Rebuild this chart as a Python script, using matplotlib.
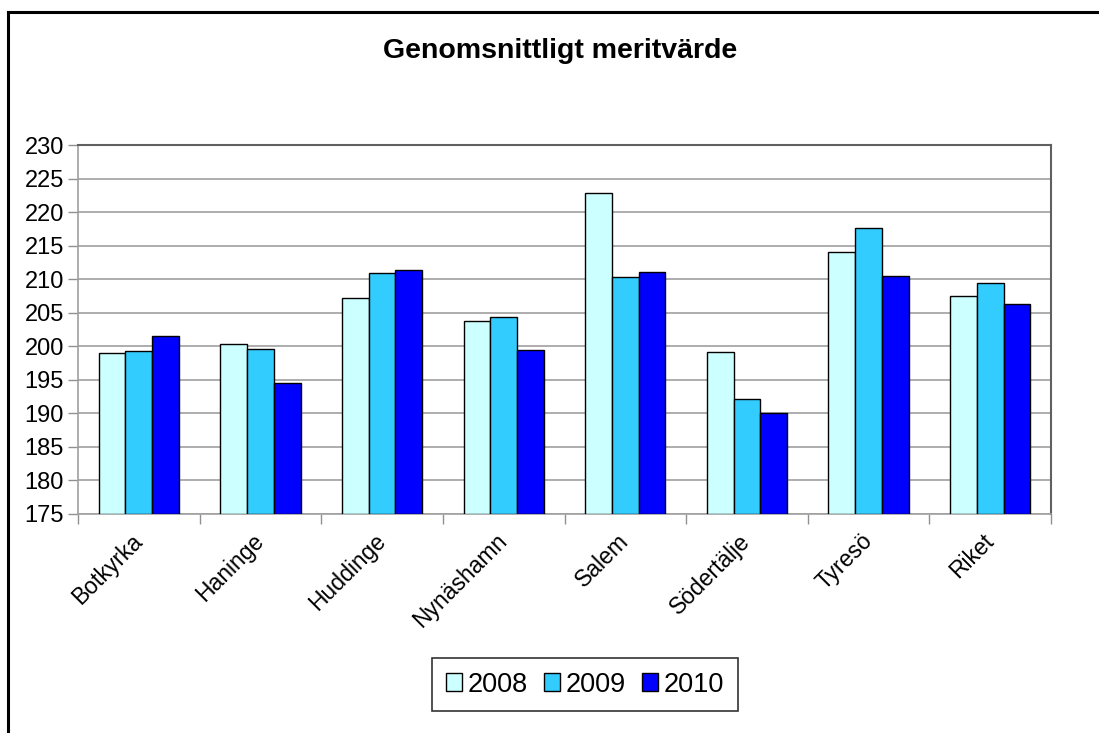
import numpy as np
import matplotlib.pyplot as plt
from matplotlib.lines import Line2D

plt.rcParams['font.family'] = ['Liberation Sans', 'DejaVu Sans']

kommuner = ['Botkyrka', 'Haninge', 'Huddinge', 'Nynäshamn', 'Salem',
            'Södertälje', 'Tyresö', 'Riket']
years = ['2008', '2009', '2010']
v2008 = [199.0, 200.4, 207.2, 203.8, 222.9, 199.2, 214.1, 207.5]
v2009 = [199.3, 199.6, 210.9, 204.4, 210.3, 192.2, 217.6, 209.5]
v2010 = [201.5, 194.6, 211.3, 199.4, 211.1, 190.1, 210.4, 206.3]
colors = ['#CCFFFF', '#33CCFF', '#0000FF']

fig = plt.figure(figsize=(10.99, 7.33), dpi=100)
ax = fig.add_axes([78 / 1099, 1 - 514 / 733, (1051 - 78) / 1099, (514 - 145) / 733])

x = np.arange(len(kommuner))
w = 0.22
base = 175
for i, (vals, c, yr) in enumerate(zip([v2008, v2009, v2010], colors, years)):
    vals = np.array(vals)
    ax.bar(x + (i - 1) * w, vals - base, width=w, bottom=base, color=c,
           edgecolor='black', linewidth=1.0, label=yr, zorder=3)

ax.set_ylim(175, 230)
ax.set_yticks(np.arange(175, 231, 5))
ax.set_xlim(-0.5, len(kommuner) - 0.5)
ax.yaxis.grid(True, color='#a0a0a0', linewidth=1.2, zorder=0)
ax.set_axisbelow(True)

# ticks between categories, labels at centers
ax.set_xticks(np.arange(-0.5, len(kommuner), 1))
ax.set_xticklabels([])
ax.set_xticks(x, minor=True)
ax.set_xticklabels(kommuner, minor=True, rotation=45, ha='right', va='center',
                   rotation_mode='anchor', fontsize=16.5)
ax.tick_params(axis='x', which='minor', length=0, pad=17)
ax.tick_params(axis='x', which='major', length=7, color='#909090', width=1)
ax.tick_params(axis='y', labelsize=17, length=7, color='#909090', width=1, pad=3)

for s in ['top', 'right']:
    ax.spines[s].set_color('#606060')
    ax.spines[s].set_linewidth(1.5)
for s in ['left', 'bottom']:
    ax.spines[s].set_color('#a0a0a0')
    ax.spines[s].set_linewidth(1.2)

fig.text(0.510, 1 - 51 / 733, 'Genomsnittligt meritvärde', ha='center', va='center',
         fontsize=20.5, fontweight='bold')

leg = fig.legend(loc='center', bbox_to_anchor=(585 / 1099, 1 - 684.5 / 733), ncol=3,
                 fontsize=19.5, frameon=True, fancybox=False, edgecolor='black',
                 handlelength=0.6, handleheight=0.6, handletextpad=0.2,
                 columnspacing=0.6, borderpad=0.5, borderaxespad=0)
leg.get_frame().set_linewidth(1.2)

# outer chart border (left and top only visible)
fig.add_artist(Line2D([8 / 1099, 8 / 1099], [0, 1 - 12 / 733], color='black',
                      linewidth=2.2, transform=fig.transFigure))
fig.add_artist(Line2D([8 / 1099, 1], [1 - 12 / 733, 1 - 12 / 733], color='black',
                      linewidth=2.2, transform=fig.transFigure))

fig.savefig('out.png', dpi=100)
